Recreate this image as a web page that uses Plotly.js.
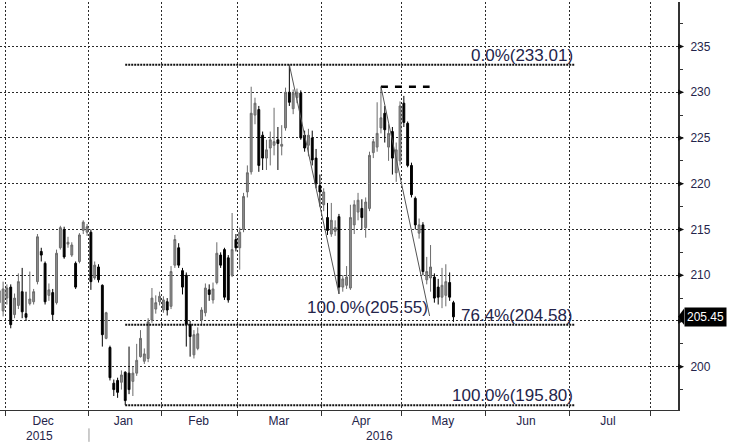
<!DOCTYPE html>
<html><head><meta charset="utf-8">
<script src="https://cdn.plot.ly/plotly-3.0.1.min.js"></script>
<style>html,body{margin:0;padding:0;background:#fff}#chart{width:731px;height:447px}</style>
</head><body><div id="chart"></div>
<script>
const dates = ['2015-11-27','2015-11-30','2015-12-01','2015-12-02','2015-12-03','2015-12-04','2015-12-07','2015-12-08','2015-12-09','2015-12-10','2015-12-11','2015-12-14','2015-12-15','2015-12-16','2015-12-17','2015-12-18','2015-12-21','2015-12-22','2015-12-23','2015-12-24','2015-12-28','2015-12-29','2015-12-30','2015-12-31',
'2016-01-04','2016-01-05','2016-01-06','2016-01-07','2016-01-08','2016-01-11','2016-01-12','2016-01-13','2016-01-14','2016-01-15','2016-01-19','2016-01-20','2016-01-21','2016-01-22','2016-01-25','2016-01-26','2016-01-27','2016-01-28','2016-01-29',
'2016-02-01','2016-02-02','2016-02-03','2016-02-04','2016-02-05','2016-02-08','2016-02-09','2016-02-10','2016-02-11','2016-02-12','2016-02-16','2016-02-17','2016-02-18','2016-02-19','2016-02-22','2016-02-23','2016-02-24','2016-02-25','2016-02-26','2016-02-29',
'2016-03-01','2016-03-02','2016-03-03','2016-03-04','2016-03-07','2016-03-08','2016-03-09','2016-03-10','2016-03-11','2016-03-14','2016-03-15','2016-03-16','2016-03-17','2016-03-18','2016-03-21','2016-03-22','2016-03-23','2016-03-24','2016-03-28','2016-03-29','2016-03-30','2016-03-31',
'2016-04-01','2016-04-04','2016-04-05','2016-04-06','2016-04-07','2016-04-08','2016-04-11','2016-04-12','2016-04-13','2016-04-14','2016-04-15','2016-04-18','2016-04-19','2016-04-20','2016-04-21','2016-04-22','2016-04-25','2016-04-26','2016-04-27','2016-04-28','2016-04-29',
'2016-05-02','2016-05-03','2016-05-04','2016-05-05','2016-05-06','2016-05-09','2016-05-10','2016-05-11','2016-05-12','2016-05-13','2016-05-16','2016-05-17','2016-05-18','2016-05-19'];
const opens = [207.0,206.1,207.5,208.7,205.7,206.7,208.2,205.8,206.9,207.1,209.3,212.6,211.3,207.8,208.1,207.0,213.0,215.0,213.4,212.2,211.3,211.5,214.9,214.7,
214.7,209.7,210.9,208.9,203.1,202.1,198.2,198.5,198.3,199.4,199.3,198.4,199.3,201.1,200.6,200.9,205.1,206.3,207.1,
206.2,207.1,206.6,211.1,213.0,210.5,210.0,204.6,201.3,202.0,205.1,205.9,208.4,207.3,209.2,212.2,212.8,211.9,210.0,213.9,
213.0,215.0,219.1,221.3,227.5,228.1,225.3,222.8,223.9,224.2,224.8,224.1,226.1,230.0,228.2,229.4,229.9,225.3,224.2,225.0,222.8,219.8,
217.7,216.3,214.5,214.8,216.4,208.7,208.9,208.6,215.5,216.9,217.3,215.2,217.3,223.4,224.0,226.1,227.7,224.0,225.7,221.2,222.5,
228.8,226.6,222.0,218.4,214.6,215.5,209.5,209.7,209.8,208.7,207.6,207.8,209.2,207.0];
const highs = [212.0,209.3,209.0,209.0,208.0,210.2,210.8,208.2,210.4,208.5,214.5,213.0,211.5,209.1,208.5,212.8,215.4,215.3,214.2,213.6,211.5,214.6,216.0,215.6,
215.0,211.5,211.2,209.0,206.0,202.3,198.6,198.8,199.6,199.5,202.2,200.0,202.5,204.0,202.0,205.3,208.6,207.8,208.2,
207.7,207.5,211.0,214.4,213.5,210.8,210.3,205.0,204.0,204.3,206.5,209.1,209.0,209.2,213.6,212.5,213.0,212.2,216.8,214.5,
215.2,219.0,222.0,230.6,229.4,228.5,225.7,224.8,225.7,228.3,226.2,226.4,230.5,233.01,230.3,230.4,230.2,225.8,226.0,225.8,223.8,221.0,
219.5,217.9,217.9,216.0,216.7,210.0,211.0,217.7,218.2,219.0,218.3,218.5,223.5,224.9,228.9,230.6,228.5,226.5,226.2,224.5,229.0,
229.6,226.8,222.3,218.6,216.2,215.8,212.0,213.3,210.2,209.6,210.8,211.2,210.3,207.2];
const lows = [206.2,205.5,206.8,204.2,205.3,206.3,205.3,205.0,206.7,206.8,209.0,211.5,206.8,207.2,205.1,206.8,212.8,211.8,213.0,212.0,208.5,211.3,214.5,214.3,
208.4,209.5,209.2,202.2,203.0,198.5,196.8,196.6,197.5,195.8,197.0,196.8,199.0,201.0,200.3,200.5,204.8,205.8,206.7,
205.9,205.6,206.3,210.8,210.8,207.9,202.2,201.1,200.9,201.8,204.5,205.5,207.2,206.9,209.0,210.8,207.3,207.0,209.8,212.6,
210.6,214.7,218.5,221.0,226.5,221.3,221.5,221.5,222.0,223.1,221.5,223.1,225.8,228.5,227.6,228.8,224.8,223.5,223.0,222.0,219.5,217.5,
217.0,214.4,214.2,214.3,207.96,208.2,208.5,208.4,214.5,216.0,215.0,214.1,217.0,222.8,223.5,225.5,224.5,222.5,221.0,220.2,222.0,
226.2,221.8,218.5,215.0,214.0,210.0,209.0,208.2,207.0,206.8,206.4,206.6,207.2,204.9];
const closes = [208.3,208.5,208.6,204.6,207.5,209.3,206.0,205.4,207.4,208.2,214.2,212.2,207.1,208.4,205.7,212.4,215.2,212.0,213.6,213.3,208.7,214.4,215.8,215.3,
209.3,211.1,209.5,203.5,205.9,198.8,197.5,197.2,199.1,196.3,197.5,199.3,200.7,203.1,201.4,204.9,207.5,207.0,207.7,
207.3,206.2,210.4,213.9,211.1,208.7,204.6,203.3,203.5,203.6,206.2,208.6,207.9,208.5,212.4,211.1,207.6,207.3,212.8,213.0,
214.7,218.6,221.2,227.7,228.8,222.0,222.8,223.7,224.8,224.6,224.4,224.3,230.0,228.9,229.9,230.0,225.0,223.9,225.3,222.6,220.0,219.1,
219.1,214.9,216.0,215.2,208.7,209.6,209.8,216.3,217.7,218.2,216.3,218.0,223.1,224.6,225.5,227.2,225.9,225.5,222.8,223.7,228.5,
226.7,222.0,218.8,215.5,215.5,210.4,210.4,210.9,207.5,207.6,208.9,209.3,207.6,205.45];

const holidays = ['2015-12-25','2016-01-01','2016-01-18','2016-02-15','2016-03-25'];
const monthStarts = ['2015-12-01','2016-01-04','2016-02-01','2016-03-01','2016-04-01','2016-05-02','2016-06-01','2016-07-01','2016-08-01'];
const monthLabelPos = ['2015-12-15','2016-01-15','2016-02-12 18:00','2016-03-15 18:00','2016-04-15 07:00','2016-05-16 17:00','2016-06-15 12:00','2016-07-15'];
const monthLabels = ['Dec','Jan','Feb','Mar','Apr','May','Jun','Jul'];
const yearLabels = ['2015','2016'];
const yearLabelPos = ['2015-12-14','2016-04-22'];
const yTickVals = [200,205,210,215,220,225,230,235];
const fibLevels = [233.01,204.58,195.80];
const fibLabels = ['0.0%(233.01)','76.4%(204.58)','100.0%(195.80)'];
const fibStart = '2016-01-15 12:00', fibEnd = '2016-07-04 08:00';
const trend1Dates = ['2016-03-18 12:00','2016-04-07 12:00'], trend1Values = [233.01,207.96];
const trend2Dates = ['2016-04-22 12:00','2016-05-11 06:00'], trend2Values = [230.60,205.55];
const projLabel = '100.0%(205.55)';

const FONT = 'Liberation Sans, Arial, sans-serif';
const TXT = '#24244a';
const last = closes[closes.length-1];
// the 205 tick label sits under the last-price box, as in the reference
const yTickText = yTickVals.map(v => Math.abs(v - last) < 1.5 ? '' : String(v));

const trace = {
  type:'candlestick', x:dates, open:opens, high:highs, low:lows, close:closes,
  xperiod:86400000, xperiodalignment:'middle',
  increasing:{line:{color:'#6b6b6b',width:1}, fillcolor:'#8e8e8e'},
  decreasing:{line:{color:'#000000',width:1}, fillcolor:'#000000'},
  hoverinfo:'skip', showlegend:false
};

const shapes = [];
fibLevels.forEach(v=>shapes.push({type:'line',xref:'x',yref:'y',x0:fibStart,x1:fibEnd,y0:v,y1:v,line:{color:'#111',width:2,dash:'2px,1px'}}));
shapes.push({type:'line',xref:'x',yref:'y',x0:trend2Dates[0],x1:trend2Dates[1],y0:trend2Values[0],y1:trend2Values[0],line:{color:'#000',width:2.5,dash:'7px,7px'}});
shapes.push({type:'line',xref:'x',yref:'y',x0:trend1Dates[0],x1:trend1Dates[1],y0:trend1Values[0],y1:trend1Values[1],line:{color:'#555',width:1}});
shapes.push({type:'line',xref:'x',yref:'y',x0:trend2Dates[0],x1:trend2Dates[1],y0:trend2Values[0],y1:trend2Values[1],line:{color:'#555',width:1}});
yTickVals.forEach(v=>shapes.push({type:'path',xref:'paper',yref:'y',path:`M 1 ${v-0.3} L 1.009 ${v} L 1 ${v+0.3} Z`,fillcolor:'#111',line:{width:0}}));
shapes.push({type:'line',xref:'x',yref:'paper',x0:monthStarts[1],x1:monthStarts[1],y0:-0.045,y1:-0.078,line:{color:'#999',width:1}});
shapes.push({type:'path',xref:'paper',yref:'y',path:`M 1 ${last} L 1.009 ${last+0.9} L 1.009 ${last-0.9} Z`,fillcolor:'#000',line:{width:0}});

const annotations = [];
fibLevels.forEach((v,i)=>annotations.push({xref:'x',yref:'y',x:fibEnd,y:v,text:fibLabels[i],showarrow:false,xanchor:'right',yanchor:'bottom',yshift:-2,font:{family:FONT,size:17,color:TXT}}));
annotations.push({xref:'x',yref:'y',x:trend2Dates[1],y:trend2Values[1],text:projLabel,showarrow:false,xanchor:'right',yanchor:'bottom',yshift:-3,font:{family:FONT,size:17,color:TXT}});
yearLabels.forEach((t,i)=>annotations.push({xref:'x',yref:'paper',x:yearLabelPos[i],y:-0.064,text:t,showarrow:false,xanchor:'center',yanchor:'middle',font:{family:FONT,size:12,color:TXT}}));
annotations.push({xref:'paper',yref:'y',x:1,xshift:6,y:last,text:last.toFixed(2),showarrow:false,xanchor:'left',yanchor:'middle',bgcolor:'#000',borderpad:2,font:{family:FONT,size:12,color:'#fff'}});

const layout = {
  width:731, height:447, margin:{l:0,r:53,t:2,b:37},
  paper_bgcolor:'#fff', plot_bgcolor:'#fff', showlegend:false, dragmode:false,
  xaxis:{type:'date', range:['2015-11-27 16:30','2016-08-10 08:00'],
    rangebreaks:[{bounds:['sat','mon']},{values:holidays}],
    rangeslider:{visible:false},
    tickmode:'array', tickvals:monthLabelPos, ticktext:monthLabels, ticks:'', showgrid:false,
    tickfont:{family:FONT,size:12,color:TXT},
    showline:true, linecolor:'#333', linewidth:1, zeroline:false, fixedrange:true,
    minor:{tickmode:'array', tickvals:monthStarts, ticks:'outside', ticklen:5, tickwidth:1, tickcolor:'#333', showgrid:true, gridcolor:'#2a2a2a', gridwidth:1, griddash:'2px,2px'}
  },
  yaxis:{side:'right', range:[195.27,239.86], tickmode:'array', tickvals:yTickVals, ticktext:yTickText, ticks:'outside', ticklen:8, tickcolor:'rgba(0,0,0,0)',
    tickfont:{family:FONT,size:12,color:TXT}, showgrid:true, gridcolor:'#2a2a2a', gridwidth:1, griddash:'2px,2px',
    showline:true, linecolor:'#333', linewidth:2, zeroline:false, fixedrange:true,
    minor:{dtick:2.5, tick0:0, ticks:'outside', ticklen:3, tickwidth:1, tickcolor:'#333', showgrid:false}
  },
  shapes:shapes, annotations:annotations
};
Plotly.newPlot('chart',[trace],layout,{staticPlot:true,displayModeBar:false});
</script></body></html>
